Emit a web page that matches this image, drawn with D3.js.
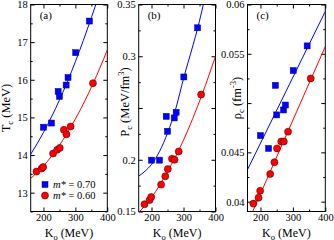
<!DOCTYPE html>
<html><head><meta charset="utf-8">
<script src="https://cdn.jsdelivr.net/npm/d3@7"></script>
<style>
body{margin:0;background:#fff}
svg{display:block}
text{font-family:"Liberation Serif","Times New Roman",serif;fill:#000}
</style>
</head><body>
<svg id="chart" width="334" height="240"></svg>
<script>
// ---- data ----
const koDomain = [160, 400];
const koTicks = [200, 300, 400];

const blueKo  = [200, 225, 246, 250, 271, 277, 301, 344];
const blueTc  = [14.74, 14.85, 15.69, 15.56, 15.86, 16.06, 16.72, 17.56];
const bluePc  = [0.1996, 0.1996, 0.2419, 0.2275, 0.2404, 0.2458, 0.2800, 0.3275];
const blueRho = [0.0467, 0.0454, 0.0518, 0.0488, 0.0493, 0.0498, 0.0533, 0.0558];

const redKo  = [178, 194, 199, 230, 243, 251, 264, 272, 285, 355];
const redTc  = [13.56, 13.64, 13.68, 14.04, 14.14, 14.19, 14.67, 14.55, 14.76, 15.91];
const redPc  = [0.157, 0.161, 0.164, 0.176, 0.184, 0.191, 0.201, 0.200, 0.208, 0.263];
const redRho = [0.0398, 0.0404, 0.0411, 0.0428, 0.0440, 0.0454, 0.0461, 0.0461, 0.0471, 0.0525];

// fitted curves
const blueFitTcKo  = [160, 200, 250, 300, 350, 364];
const blueFitTc    = [14.02, 14.60, 15.46, 16.48, 17.65, 18.0];
const redFitTcKo   = [160, 200, 250, 300, 356, 400];
const redFitTc     = [13.38, 13.71, 14.26, 14.96, 15.91, 16.79];

const blueFitPcKo  = [160, 180, 200, 225, 251, 275, 301, 330, 345, 362];
const blueFitPc    = [0.1842, 0.189, 0.1955, 0.208, 0.2265, 0.2485, 0.2795, 0.311, 0.328, 0.35];
const redFitPcKo   = [160, 200, 250, 300, 358, 400];
const redFitPc     = [0.149, 0.1635, 0.1885, 0.219, 0.263, 0.300];

const blueFitRhoKo = [160, 400];
const blueFitRho   = [0.04325, 0.0593];
const redFitRhoKo  = [176, 400];
const redFitRho    = [0.0390, 0.05574];

const tcTicks  = [13, 14, 15, 16, 17, 18];
const pcTicks  = [0.15, 0.2, 0.3, 0.35];
const rhoTicks = [0.04, 0.045, 0.055, 0.06];

const legendLabels = ["m* = 0.70", "m* = 0.60"];
const panelTags = ["(a)", "(b)", "(c)"];

// ---- layout ----
const svg = d3.select("#chart");
const yTop = 4.5, yBot = 211.5;
const blue = "#0000ff", red = "#ff0000";

const zip = (a, b) => a.map((v, i) => [v, b[i]]);

const panels = [
  {x0: 30.7, x1: 107.3, domain: [12.5, 18], ticks: tcTicks, minor: 0.5, fmt: d3.format("d"),
   label: ["T", "c", " (MeV)", null], labX: 10, labY: 108,
   blue: zip(blueKo, blueTc), red: zip(redKo, redTc),
   bfit: zip(blueFitTcKo, blueFitTc), rfit: zip(redFitTcKo, redFitTc)},
  {x0: 138.7, x1: 215.5, domain: [0.15, 0.35], ticks: pcTicks, minor: 0.025, fmt: d => String(d),
   label: ["P", "c", " (MeV/fm", "3", ")"], labX: 129, labY: 102,
   blue: zip(blueKo, bluePc), red: zip(redKo, redPc),
   bfit: zip(blueFitPcKo, blueFitPc), rfit: zip(redFitPcKo, redFitPc)},
  {x0: 247.5, x1: 325.3, domain: [0.039, 0.06], ticks: rhoTicks, minor: 0.0025, fmt: d => String(d),
   label: ["\u03c1", "c", " (fm", "-3", ")"], labX: 241, labY: 98,
   blue: zip(blueKo, blueRho), red: zip(redKo, redRho),
   bfit: zip(blueFitRhoKo, blueFitRho), rfit: zip(redFitRhoKo, redFitRho)}
];

panels.forEach((p, i) => {
  const x = d3.scaleLinear().domain(koDomain).range([p.x0, p.x1]);
  const y = d3.scaleLinear().domain(p.domain).range([yBot, yTop]);
  const g = svg.append("g");

  const cid = "clip" + i;
  svg.append("clipPath").attr("id", cid).append("rect")
    .attr("x", p.x0).attr("y", yTop).attr("width", p.x1 - p.x0).attr("height", yBot - yTop);

  const step = p.minor * 2;
  const yAll = [];
  for (let k = Math.ceil(p.domain[0] / p.minor - 1e-6); k * p.minor <= p.domain[1] + 1e-9; k++) yAll.push(+(k * p.minor).toFixed(5));
  const isMajor = v => Math.abs(v / step - Math.round(v / step)) < 1e-4;
  const yMajor = yAll.filter(isMajor);
  const yMinor = yAll.filter(v => !isMajor(v));
  const xMinor = [250, 350];

  g.append("g").attr("transform", `translate(0,${yBot})`)
    .call(d3.axisBottom(x).tickValues(koTicks).tickSize(-4).tickPadding(2.5).tickFormat(d3.format("d")));
  g.append("g").attr("transform", `translate(0,${yBot})`)
    .call(d3.axisBottom(x).tickValues(xMinor).tickSize(-2).tickFormat(""));
  g.append("g").attr("transform", `translate(0,${yTop})`)
    .call(d3.axisTop(x).tickValues(koTicks).tickSize(-4).tickFormat(""));
  g.append("g").attr("transform", `translate(0,${yTop})`)
    .call(d3.axisTop(x).tickValues(xMinor).tickSize(-2).tickFormat(""));

  g.append("g").attr("transform", `translate(${p.x0},0)`)
    .call(d3.axisLeft(y).tickValues(yMajor).tickSize(-4).tickPadding(3)
      .tickFormat(d => p.ticks.some(t => Math.abs(t - d) < 1e-6) ? p.fmt(d) : ""));
  g.append("g").attr("transform", `translate(${p.x0},0)`)
    .call(d3.axisLeft(y).tickValues(yMinor).tickSize(-2).tickFormat(""));
  g.append("g").attr("transform", `translate(${p.x1},0)`)
    .call(d3.axisRight(y).tickValues(yMajor).tickSize(-4).tickFormat(""));
  g.append("g").attr("transform", `translate(${p.x1},0)`)
    .call(d3.axisRight(y).tickValues(yMinor).tickSize(-2).tickFormat(""));

  g.selectAll(".domain").remove();
  g.selectAll(".tick line").attr("stroke", "#000").attr("stroke-width", 1);
  g.selectAll(".tick text").attr("font-family", "Liberation Serif").attr("font-size", 10.5).attr("fill", "#000");

  g.append("rect").attr("x", p.x0).attr("y", yTop).attr("width", p.x1 - p.x0).attr("height", yBot - yTop)
    .attr("fill", "none").attr("stroke", "#000").attr("stroke-width", 1);

  const line = d3.line().x(d => x(d[0])).y(d => y(d[1])).curve(d3.curveMonotoneX);
  g.append("path").attr("d", line(p.bfit)).attr("fill", "none").attr("stroke", blue).attr("stroke-width", 1)
    .attr("clip-path", `url(#${cid})`);
  g.append("path").attr("d", line(p.rfit)).attr("fill", "none").attr("stroke", red).attr("stroke-width", 1)
    .attr("clip-path", `url(#${cid})`);

  g.selectAll(".sq").data(p.blue).enter().append("rect")
    .attr("x", d => x(d[0]) - 3).attr("y", d => y(d[1]) - 3).attr("width", 6).attr("height", 6)
    .attr("fill", blue).attr("stroke", "#00008b").attr("stroke-width", 0.5);
  g.selectAll(".ci").data(p.red).enter().append("circle")
    .attr("cx", d => x(d[0])).attr("cy", d => y(d[1])).attr("r", 3.5)
    .attr("fill", red).attr("stroke", "#550000").attr("stroke-width", 0.6);

  g.append("text").attr("x", p.x0 + 9).attr("y", 19).attr("font-size", 11).text(panelTags[i]);

  const xl = g.append("text").attr("x", (p.x0 + p.x1) / 2).attr("y", 236.5).attr("text-anchor", "middle").attr("font-size", 12);
  xl.append("tspan").text("K");
  xl.append("tspan").attr("dy", 3).attr("font-size", 8.5).text("o");
  xl.append("tspan").attr("dy", -3).text(" (MeV)");

  const yl = g.append("text").attr("transform", `translate(${p.labX},${p.labY}) rotate(-90)`)
    .attr("text-anchor", "middle").attr("font-size", 12.5);
  yl.append("tspan").text(p.label[0]);
  yl.append("tspan").attr("dy", 3).attr("font-size", 8.5).text(p.label[1]);
  yl.append("tspan").attr("dy", -3).text(p.label[2]);
  if (p.label[3]) {
    yl.append("tspan").attr("dy", -5).attr("font-size", 8.5).text(p.label[3]);
    yl.append("tspan").attr("dy", 5).text(p.label[4]);
  }

  if (i === 0) {
    const lg = g.append("g");
    const ly0 = 184.5, dyL = 11;
    lg.append("rect").attr("x", 45 - 3).attr("y", ly0 - 3).attr("width", 6).attr("height", 6)
      .attr("fill", blue).attr("stroke", "#00008b").attr("stroke-width", 0.5);
    lg.append("circle").attr("cx", 45).attr("cy", ly0 + dyL).attr("r", 3.5)
      .attr("fill", red).attr("stroke", "#550000").attr("stroke-width", 0.6);
    legendLabels.forEach((t, k) => {
      const parts = t.split("=");
      const tt = lg.append("text").attr("x", 53).attr("y", ly0 + k * dyL + 3.8).attr("font-size", 10.5);
      tt.append("tspan").attr("font-style", "italic").text("m*");
      tt.append("tspan").text(" =" + parts[1]);
    });
  }
});
</script>
</body></html>
